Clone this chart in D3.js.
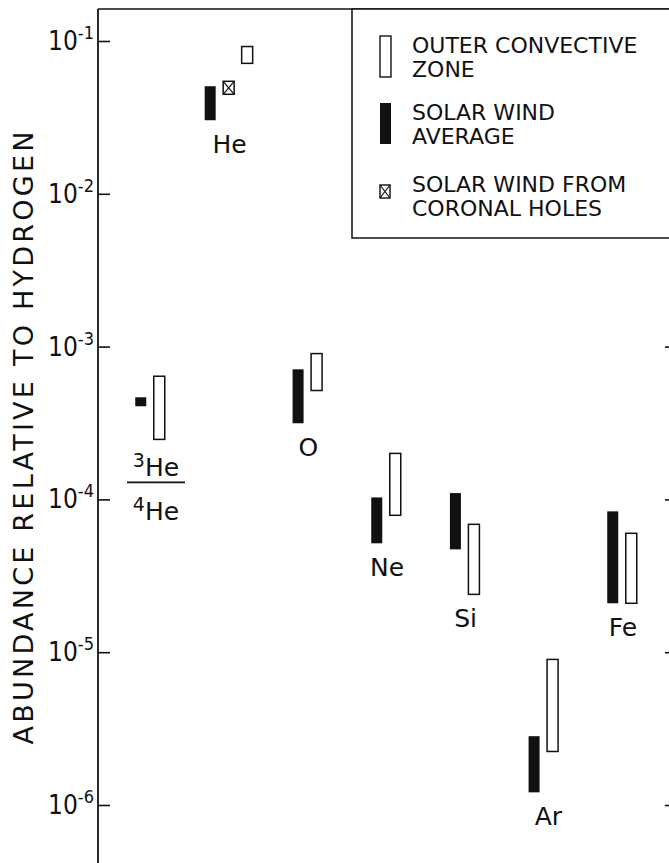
<!DOCTYPE html>
<html>
<head>
<meta charset="utf-8">
<script src="https://cdn.jsdelivr.net/npm/d3@7/dist/d3.min.js"></script>
<style>
  body { margin: 0; background: #fff; }
  text { font-family: "DejaVu Sans", sans-serif; fill: #111; }
</style>
</head>
<body>
<svg id="chart" width="669" height="863"></svg>
<script>
// abundance relative to hydrogen, [low, high] ranges
const elements = ["3He/4He", "He", "O", "Ne", "Si", "Ar", "Fe"];
const windAverage = [[4.07e-4, 4.66e-4], [0.0303, 0.0506], [3.15e-4, 7.1e-4], [5.16e-5, 1.03e-4],
                     [4.71e-5, 1.10e-4], [1.21e-6, 2.82e-6], [2.09e-5, 8.35e-5]];
const convectiveZone = [[2.47e-4, 6.4e-4], [0.0714, 0.092], [5.16e-4, 9.0e-4], [7.87e-5, 2.0e-4],
                        [2.39e-5, 6.87e-5], [2.24e-6, 8.97e-6], [2.09e-5, 6.0e-5]];
const coronalHoles = [null, [0.0448, 0.0545], null, null, null, null, null];
const tickValues = [1e-1, 1e-2, 1e-3, 1e-4, 1e-5, 1e-6];
const tickExponents = ["-1", "-2", "-3", "-4", "-5", "-6"];
const legendLabels = [["OUTER CONVECTIVE", "ZONE"], ["SOLAR WIND", "AVERAGE"], ["SOLAR WIND FROM", "CORONAL HOLES"]];

const svg = d3.select("#chart");
const mLeft = 98, mTop = 9, mRight = 677, mBottom = 863;

const x = d3.scalePoint().domain(elements).range([150, 622]);
const y = d3.scaleLog().domain([1e-6, 1e-1]).range([805, 41]);

// squeeze text horizontally a bit, the lettering in the figure is narrow
function condense(sel, k) {
    sel.each(function () {
        const w = this.getComputedTextLength();
        d3.select(this).attr("textLength", w * k).attr("lengthAdjust", "spacingAndGlyphs");
    });
}

// build bar records
const bars = [];
elements.forEach((el, i) => {
    const series = [["avg", windAverage[i]]];
    if (coronalHoles[i]) series.push(["holes", coronalHoles[i]]);
    series.push(["conv", convectiveZone[i]]);
    const half = (series.length - 1) * 9.25;
    const sub = d3.scalePoint().domain(series.map(s => s[0])).range([-half, half]);
    series.forEach(([kind, r]) => bars.push({el, kind, lo: r[0], hi: r[1], cx: x(el) + sub(kind)}));
});

// right-hand ticks (axis line sits just off the page)
svg.append("g")
    .attr("transform", `translate(${mRight},0)`)
    .call(d3.axisLeft(y).tickValues(tickValues).tickSize(12).tickFormat(""))
    .call(g => g.selectAll("line").attr("stroke", "#111").attr("stroke-width", 1.6));

// left axis
svg.append("g")
    .attr("transform", `translate(${mLeft},0)`)
    .call(d3.axisRight(y).tickValues(tickValues).tickSize(12).tickSizeOuter(0).tickFormat(""))
    .call(g => g.select(".domain").remove())
    .call(g => g.selectAll("line").attr("stroke", "#111").attr("stroke-width", 1.6));

svg.append("line")
    .attr("x1", mLeft).attr("x2", mLeft).attr("y1", mTop).attr("y2", mBottom)
    .attr("stroke", "#111").attr("stroke-width", 1.8);
svg.append("line")
    .attr("x1", mLeft).attr("x2", 669).attr("y1", mTop).attr("y2", mTop)
    .attr("stroke", "#111").attr("stroke-width", 1.6);

// tick labels 10^n
const tl = svg.selectAll(".tlab")
    .data(tickValues)
    .join("text")
    .attr("class", "tlab")
    .attr("x", 94)
    .attr("y", d => y(d) + 9)
    .attr("text-anchor", "end")
    .attr("font-size", 26);
tl.append("tspan").text("10");
tl.append("tspan").attr("font-size", 18).attr("dy", -11).text((d, i) => tickExponents[i]);
condense(tl, 0.9);

// y title
svg.append("text")
    .attr("transform", "translate(33,438) rotate(-90)")
    .attr("text-anchor", "middle")
    .attr("font-size", 27)
    .attr("textLength", 613)
    .attr("lengthAdjust", "spacing")
    .text("ABUNDANCE RELATIVE TO HYDROGEN");

// bars
const barW = 11;
svg.selectAll(".bar")
    .data(bars)
    .join("rect")
    .attr("class", "bar")
    .attr("x", d => d.cx - barW / 2)
    .attr("y", d => y(d.hi))
    .attr("width", barW)
    .attr("height", d => y(d.lo) - y(d.hi))
    .attr("fill", d => d.kind === "avg" ? "#111" : "#fff")
    .attr("stroke", "#111")
    .attr("stroke-width", d => d.kind === "avg" ? 0 : 1.5);

svg.selectAll(".cross")
    .data(bars.filter(d => d.kind === "holes"))
    .join("path")
    .attr("class", "cross")
    .attr("d", d => `M${d.cx - barW / 2},${y(d.hi)}L${d.cx + barW / 2},${y(d.lo)}M${d.cx + barW / 2},${y(d.hi)}L${d.cx - barW / 2},${y(d.lo)}`)
    .attr("stroke", "#111")
    .attr("stroke-width", 1.2);

// element labels under the bars
const lowest = el => d3.min(bars.filter(b => b.el === el), b => b.lo);
svg.selectAll(".elab")
    .data(elements.slice(1))
    .join("text")
    .attr("class", "elab")
    .attr("x", d => x(d) + (d === "Ar" ? 5 : 1))
    .attr("y", d => y(lowest(d)) + 33)
    .attr("text-anchor", "middle")
    .attr("font-size", 25)
    .text(d => d);

// 3He / 4He fraction
const fx = x("3He/4He") + 6;
const fy = y(lowest("3He/4He")) + 43;
const num = svg.append("text").attr("x", fx).attr("y", fy - 6).attr("text-anchor", "middle").attr("font-size", 25);
num.append("tspan").attr("font-size", 19).attr("dy", -9).text("3");
num.append("tspan").attr("dy", 9).text("He");
const den = svg.append("text").attr("x", fx).attr("y", fy + 38).attr("text-anchor", "middle").attr("font-size", 25);
den.append("tspan").attr("font-size", 19).attr("dy", -9).text("4");
den.append("tspan").attr("dy", 9).text("He");
svg.append("line")
    .attr("x1", fx - 29).attr("x2", fx + 29).attr("y1", fy).attr("y2", fy)
    .attr("stroke", "#111").attr("stroke-width", 1.6);

// legend
const lg = svg.append("g");
lg.append("rect")
    .attr("x", 352).attr("y", mTop).attr("width", 340).attr("height", 238 - mTop)
    .attr("fill", "#fff").attr("stroke", "#111").attr("stroke-width", 1.5);

const legendKinds = ["conv", "avg", "holes"];
const legendY = [53, 120, 192];
const items = lg.selectAll(".item")
    .data(legendKinds)
    .join("g")
    .attr("class", "item")
    .attr("transform", (d, i) => `translate(0,${legendY[i]})`);

items.append("rect")
    .attr("x", 380)
    .attr("y", d => d === "holes" ? -7 : -17)
    .attr("width", d => d === "holes" ? 10 : 11)
    .attr("height", d => d === "holes" ? 13 : 41)
    .attr("fill", d => d === "avg" ? "#111" : "#fff")
    .attr("stroke", "#111")
    .attr("stroke-width", d => d === "avg" ? 0 : 1.4);

items.filter(d => d === "holes").append("path")
    .attr("d", "M380,-7L390,6M390,-7L380,6")
    .attr("stroke", "#111").attr("stroke-width", 1.2);

items.each(function (d, i) {
    const t = d3.select(this).selectAll("text")
        .data(legendLabels[i])
        .join("text")
        .attr("x", 412)
        .attr("y", (s, j) => j * 24)
        .attr("font-size", 22)
        .text(s => s);
    condense(t, 1.0);
});
</script>
</body>
</html>
